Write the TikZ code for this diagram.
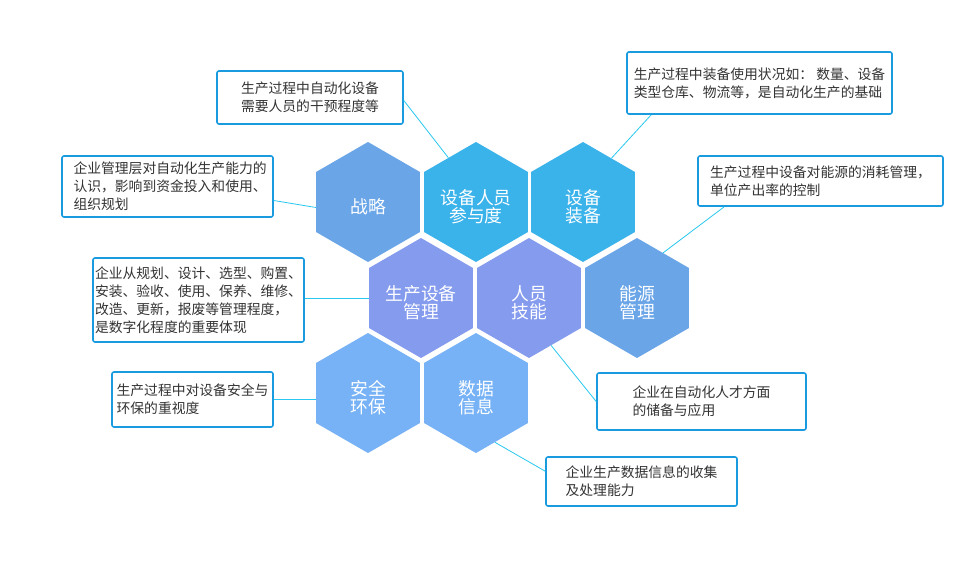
\documentclass[tikz,border=0pt]{standalone}
\usepackage{fontspec}
\setmainfont{Noto Sans CJK SC}
\usepackage{xcolor}
\definecolor{hexblue}{RGB}{106,165,232}
\definecolor{hexcyan}{RGB}{58,178,234}
\definecolor{hexviolet}{RGB}{132,155,238}
\definecolor{hexsky}{RGB}{118,178,245}
\definecolor{noteblue}{RGB}{26,155,224}
\definecolor{linkcyan}{RGB}{40,200,240}
\definecolor{notetext}{RGB}{51,51,51}
\usepackage{tikz}
\usetikzlibrary{
    shapes.geometric,
    calc
}

\begin{document}
\begin{tikzpicture}[x=1pt,y=-1pt,
    hexcell/.style={regular polygon,regular polygon sides=6,shape border rotate=30,
        minimum size=120pt,inner sep=0pt},
    hexlabel/.style={text=white,align=center,inner sep=0pt,yshift=-5pt,
        font=\fontsize{17.8}{18}\selectfont},
    notebox/.style={draw=noteblue,line width=1.6pt,rounded corners=2pt,fill=white,
        text=notetext,align=left,inner sep=0pt,font=\fontsize{13.8}{18}\selectfont},
    link/.style={draw=linkcyan,line width=0.8pt}]

    \fill[white] (0,0) rectangle (980,578);
    \useasboundingbox (0,0) rectangle (980,578);

    \node[hexcell,fill=hexblue,label={[hexlabel]center:战略}] (zhanlue) at (368,202) {};
    \node[hexcell,fill=hexcyan,label={[hexlabel]center:设备人员\\参与度}] (canyu) at (476,202) {};
    \node[hexcell,fill=hexcyan,label={[hexlabel]center:设备\\装备}] (zhuangbei) at (583,202) {};
    \node[hexcell,fill=hexviolet,label={[hexlabel]center:生产设备\\管理}] (guanli) at (421,298) {};
    \node[hexcell,fill=hexviolet,label={[hexlabel]center:人员\\技能}] (jineng) at (529,298) {};
    \node[hexcell,fill=hexblue,label={[hexlabel]center:能源\\管理}] (nengyuan) at (637,298) {};
    \node[hexcell,fill=hexsky,label={[hexlabel]center:安全\\环保}] (anquan) at (368,393) {};
    \node[hexcell,fill=hexsky,label={[hexlabel]center:数据\\信息}] (shuju) at (476,393) {};

    \node[notebox,minimum width=186pt,minimum height=53pt] (canyuNote) at (310,97.5)
        {生产过程中自动化设备\\需要人员的干预程度等};
    \node[notebox,minimum width=211pt,minimum height=61pt,text width=188pt] (zhanlueNote) at (167.5,186.5)
        {企业管理层对自动化生产能力的\\认识，影响到资金投入和使用、\\组织规划};
    \node[notebox,minimum width=265pt,minimum height=62pt] (zhuangbeiNote) at (759.5,83)
        {生产过程中装备使用状况如： 数量、设备\\类型仓库、物流等，是自动化生产的基础};
    \node[notebox,minimum width=245pt,minimum height=50pt] (nengyuanNote) at (820.5,181)
        {生产过程中设备对能源的消耗管理，\\单位产出率的控制};
    \node[notebox,minimum width=211pt,minimum height=84pt] (guanliNote) at (198.5,300)
        {企业从规划、设计、选型、购置、\\安装、验收、使用、保养、维修、\\改造、更新，报废等管理程度，\\是数字化程度的重要体现};
    \node[notebox,minimum width=161pt,minimum height=55pt] (anquanNote) at (192.5,399.5)
        {生产过程中对设备安全与\\环保的重视度};
    \node[notebox,minimum width=209pt,minimum height=57pt] (jinengNote) at (701.5,401.5)
        {企业在自动化人才方面\\的储备与应用};
    \node[notebox,minimum width=191pt,minimum height=49pt] (shujuNote) at (641.5,481.5)
        {企业生产数据信息的收集\\及处理能力};

    \draw[link] ([yshift=-3pt]canyuNote.east) -- (canyu.122);
    \draw[link] ([yshift=-14pt]zhanlueNote.east) -- (zhanlue.186);
    \draw[link] ([xshift=25pt]zhuangbeiNote.south west) -- (zhuangbei.57);
    \draw[link] ([xshift=27pt]nengyuanNote.south west) -- (nengyuan.60);
    \draw[link] (guanli.west) -- (guanli.west -| guanliNote.east);
    \draw[link] (anquanNote.east) -- (anquanNote.east -| anquan.west);
    \draw[link] (jinengNote.west) -- (jineng.-65);
    \draw[link] ([yshift=-15pt]shujuNote.north west) -- (shuju.-69);
\end{tikzpicture}
\end{document}
